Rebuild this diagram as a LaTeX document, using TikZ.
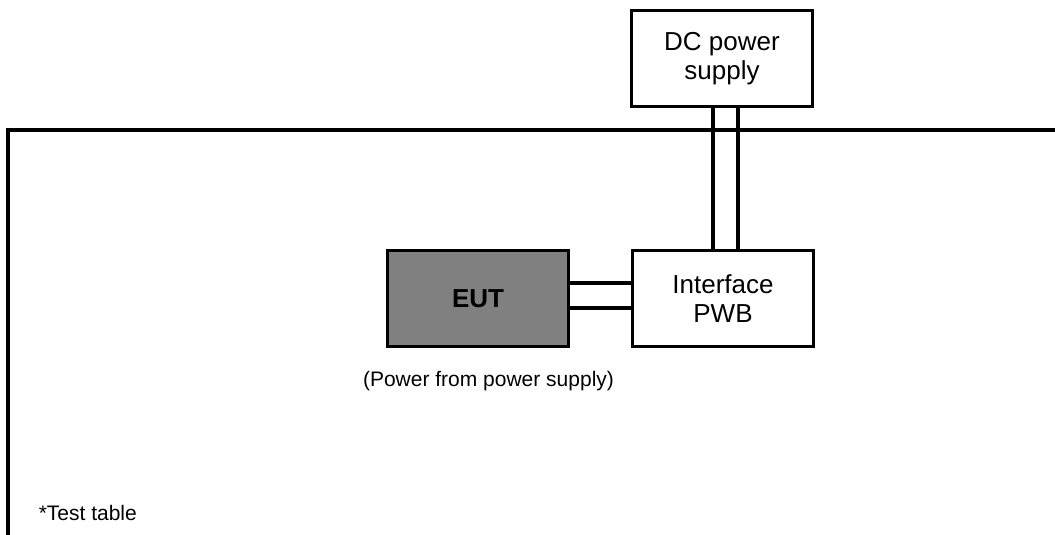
\documentclass[tikz,border=0pt]{standalone}
\usepackage{fontspec}
\setmainfont{Liberation Sans}
\usetikzlibrary{positioning}
\definecolor{eutgray}{RGB}{128, 128, 128}

\begin{document}
\begin{tikzpicture}[x=1pt, y=-1pt, line width=3.5pt,
  unitbox/.style={draw, fill=white, minimum width=181pt, minimum height=96pt, align=center, inner sep=0pt, font=\fontsize{26}{29}\selectfont},
  wire/.style={draw, line width=3.5pt}]
  \useasboundingbox (0,0) rectangle (1055,535);

  % test table outline
  \draw (8,537) -- (8,130) -- (1057,130);

  \node[unitbox] (dcsupply) at (722,58.5) {DC power\\supply};
  \node[unitbox] (iface) at (723,298.5) {Interface\\PWB};
  \node[unitbox, fill=eutgray, font=\fontsize{26}{29}\selectfont\bfseries] (eut) at (478,298.5) {EUT};

  % power lines
  \draw ([xshift=-9pt]dcsupply.south) -- ([xshift=-9pt]dcsupply.south |- iface.north);
  \draw ([xshift=16pt]dcsupply.south) -- ([xshift=16pt]dcsupply.south |- iface.north);
  % signal lines
  \draw ([yshift=15.5pt]eut.east) -- ([yshift=15.5pt]eut.east -| iface.west);
  \draw ([yshift=-9.5pt]eut.east) -- ([yshift=-9.5pt]eut.east -| iface.west);

  \node[font=\fontsize{21}{24}\selectfont] (eutnote) at (488.5,381) {(Power from power supply)};
  \node[font=\fontsize{21}{24}\selectfont, anchor=base west, inner sep=0pt] (tablenote) at (37,520) {*Test table};
\end{tikzpicture}
\end{document}
